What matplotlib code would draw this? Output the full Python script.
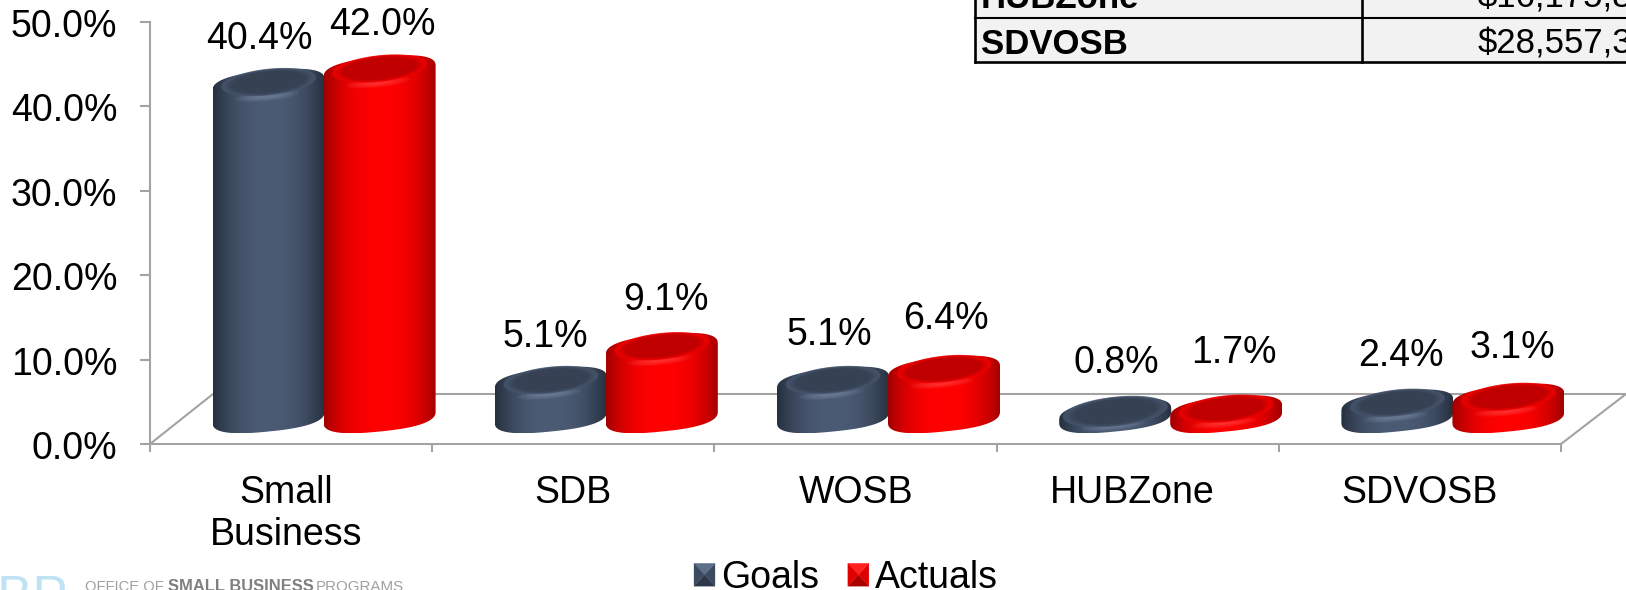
import numpy as np
import matplotlib
matplotlib.use("Agg")
import matplotlib.pyplot as plt
from matplotlib.patches import Polygon, Rectangle, Patch
from matplotlib.legend_handler import HandlerBase
from matplotlib.transforms import Affine2D

categories = ["Small\nBusiness", "SDB", "WOSB", "HUBZone", "SDVOSB"]
goals = [40.4, 5.1, 5.1, 0.8, 2.4]
actuals = [42.0, 9.1, 6.4, 1.7, 3.1]
y_ticks = [0, 10, 20, 30, 40, 50]
table_rows = ["HUBZone", "SDVOSB"]
table_values = ["$16,175,8", "$28,557,3"]

W, H = 1626, 590
plt.rcParams["font.family"] = ["Liberation Sans", "DejaVu Sans"]
FS = 27.0
GREY = "#a3a3a3"

# plot box in pixels
X0, X1, Y0, Y1 = 150, 1626, 444, 22
CAT_W = 282.2
PX_Y = (Y0 - Y1) / 50

fig = plt.figure(figsize=(W / 100, H / 100), dpi=100)
ax = fig.add_axes([X0 / W, 1 - Y0 / H, (X1 - X0) / W, (Y0 - Y1) / H])
ax.set_xlim(0, (X1 - X0) / CAT_W)
ax.set_ylim(0, 50)
ax.patch.set_alpha(0)

for s in ["top", "right"]:
    ax.spines[s].set_visible(False)
for s in ["left", "bottom"]:
    ax.spines[s].set_color(GREY)
    ax.spines[s].set_linewidth(1.5)
ax.spines["bottom"].set_bounds(0, 5)

ax.set_yticks(y_ticks)
ax.set_yticklabels([f"{t:.1f}%" for t in y_ticks], fontsize=FS, va="center")
ax.tick_params(axis="y", length=7, width=1.5, color=GREY, pad=16.5)
for lab in ax.get_yticklabels():
    lab.set_transform(lab.get_transform() + Affine2D().translate(0, -5))

ax.set_xticks(range(6))
ax.set_xticklabels([""] * 6)
ax.tick_params(axis="x", length=6, width=1.5, color=GREY)
ax.set_xticks(np.arange(len(categories)) + 0.5, minor=True)
ax.set_xticklabels(categories, minor=True, fontsize=FS, linespacing=1.22)
ax.tick_params(axis="x", which="minor", length=0, pad=22)
cat_nudge = [-5, 0, 1, -5, 0]
for lab, dx in zip(ax.get_xticklabels(minor=True), cat_nudge):
    lab.set_transform(lab.get_transform() + Affine2D().translate(dx, 0))

# floor of the 3d box
depth_x = 63 / CAT_W
depth_y = 50 / PX_Y
ax.plot([0, depth_x, (1626 - X0) / CAT_W], [0, depth_y, depth_y], color=GREY, lw=1.5, zorder=1, clip_on=False)
ax.plot([5, 5 + 65 / CAT_W], [0, depth_y], color=GREY, lw=1.5, zorder=1, clip_on=False)

A = 56  # half width px
B = 14.5
SHEAR = 0.10
BASE_PX = 417
TOP_PX = 426
P = 0.78  # squarer ellipse, gives the rounded bevel corners


def ring(xc, yc, a, b, t, p=P):
    # tilted ellipse, pixel sizes turned into data units
    c, s = np.cos(t), np.sin(t)
    px = a * np.sign(c) * np.abs(c) ** p
    py = b * np.sign(s) * np.abs(s) ** p + SHEAR * px
    return xc + px / CAT_W, yc + py / PX_Y


def mix(c0, c1, m):
    c0 = np.array(matplotlib.colors.to_rgb(c0))
    c1 = np.array(matplotlib.colors.to_rgb(c1))
    return c0 * (1 - m) + c1 * m


def gradient(patch, edge, mid, z):
    u = np.linspace(-1, 1, 200)
    m = (1 - np.clip(np.abs(u) ** 2.4, 0, 1))[:, None]
    img = mix(edge, mid, m)[None, :, :]
    xy = patch.get_xy()
    im = ax.imshow(img, extent=[xy[:, 0].min(), xy[:, 0].max(), xy[:, 1].min(), xy[:, 1].max()],
                   aspect="auto", zorder=z, interpolation="bilinear")
    ax.add_patch(patch)
    im.set_clip_path(patch)


def cylinder(xc, value, edge, mid, lit, top, z):
    y_base = (Y0 - BASE_PX) / PX_Y
    y_top = max((Y0 - TOP_PX) / PX_Y + value, y_base + 0.3)
    tt = np.linspace(0, 2 * np.pi, 120)
    low = np.linspace(np.pi, 2 * np.pi, 60)
    up = np.linspace(0, np.pi, 60)
    bx, by = ring(xc, y_base, A, B, low)
    tx, ty = ring(xc, y_top, A, B, up)
    side = Polygon(np.column_stack([np.r_[bx, tx], np.r_[by, ty]]), closed=True,
                   facecolor="none", edgecolor="none", zorder=z)
    gradient(side, edge, mid, z)
    # soft highlight on the bevel
    for k in range(6):
        f = 1 - k / 6
        hx, hy = ring(xc - 2 / CAT_W, y_top - 11 / PX_Y, 6 + 26 * f, 1 + 4 * f, tt, 1)
        ax.fill(hx, hy, color=lit, alpha=0.13, lw=0, zorder=z + 0.1)
    # flat dark top with a blurred rim
    inset = 0.9 if value > 1 else 1.0
    for k in range(7):
        f = k / 6
        ix, iy = ring(xc, y_top + 3 / PX_Y, A * (0.94 - 0.2 * f) * inset, B * (1.02 - 0.2 * f) * inset, tt, 1)
        col = mix(mid, top, 0.25 + 0.75 * f)
        ax.fill(ix, iy, color=col, lw=0, zorder=z + 0.2 + k * 0.01, alpha=0.8 if k < 6 else 1)


GOAL_COL = ("#252f3d", "#4b5b74", "#7f90a8", "#364254")
RED_COL = ("#a00000", "#ff0000", "#ff5050", "#c00000")
SHIFT = 33 / CAT_W
GAP = 55.5 / CAT_W

# label offsets in px, goal and actual
goal_dx = [-9, -5, -4, 1, 4]
goal_gap = [46, 46, 48, 56, 50]
act_dx = [3, 4, 2, 8, 4]
act_gap = [47, 49, 53, 59, 52]

for i in range(len(categories)):
    xc = i + 0.5 + SHIFT
    cylinder(xc - GAP, goals[i], *GOAL_COL, 3 + i)
    cylinder(xc + GAP, actuals[i], *RED_COL, 3.5 + i)
    ax.text(xc - GAP + goal_dx[i] / CAT_W, (Y0 - TOP_PX + goal_gap[i]) / PX_Y + goals[i],
            f"{goals[i]:.1f}%", fontsize=FS, ha="center", va="center", zorder=10, clip_on=False)
    ax.text(xc + GAP + act_dx[i] / CAT_W, (Y0 - TOP_PX + act_gap[i]) / PX_Y + actuals[i],
            f"{actuals[i]:.1f}%", fontsize=FS, ha="center", va="center", zorder=10, clip_on=False)

ax.set_xlim(0, (X1 - X0) / CAT_W)
ax.set_ylim(0, 50)


class Pyramid(HandlerBase):
    # legend key: little square shaded like a bevel
    def __init__(self, shades):
        super().__init__()
        self.shades = shades

    def create_artists(self, legend, orig, xd, yd, w, h, fs, trans):
        x0, y0 = -xd, -yd
        cx, cy = x0 + w / 2, y0 + h / 2
        c = [(x0, y0), (x0 + w, y0), (x0 + w, y0 + h), (x0, y0 + h)]
        out = []
        for j, col in enumerate(self.shades):
            out.append(Polygon([c[j], c[(j + 1) % 4], (cx, cy)], closed=True, facecolor=col,
                               edgecolor=col, lw=0.2, transform=trans))
        return out


h_goal = Patch(color="#46566e", label="Goals")
h_act = Patch(color="#ff0000", label="Actuals")
fig.legend(handles=[h_goal, h_act], loc="center left", bbox_to_anchor=(694 / W, 1 - 578 / H),
           ncol=2, frameon=False, fontsize=FS, borderpad=0, borderaxespad=0,
           handlelength=0.56, handleheight=0.56, handletextpad=0.17, columnspacing=0.76,
           handler_map={h_goal: Pyramid(["#2c3748", "#3b4a60", "#5d6e88", "#3b4a60"]),
                        h_act: Pyramid(["#a80000", "#e00000", "#ff2020", "#e00000"])})

# table cut off by the top right corner
fig.add_artist(Rectangle((975 / W, 1 - 62 / H), (W - 975) / W, 62 / H, facecolor="#f2f2f2",
                         edgecolor="none", transform=fig.transFigure))
for xs, ys in [([975, 975], [0, 62]), ([1362, 1362], [0, 62]),
               ([975, W], [17.5, 17.5]), ([975, W], [61.5, 61.5])]:
    fig.add_artist(plt.Line2D([x / W for x in xs], [1 - y / H for y in ys], color="black",
                              lw=1.5 if ys[0] == 17.5 else 1.9, transform=fig.transFigure))
for name, val, base in zip(table_rows, table_values, [8, 54]):
    fig.text(981 / W, 1 - base / H, name, fontsize=25, fontweight="bold", va="baseline")
    fig.text(1478 / W, 1 - base / H, val, fontsize=25, va="baseline")

# logo strip, only its upper part is in the frame
fig.text(68 / W, 1 - 613 / H, "SBP", fontsize=38, color="#bfe2f5", ha="right", va="baseline")
fig.text(85 / W, 1 - 591 / H, "OFFICE OF", fontsize=10.6, color="#a0a0a0", va="baseline")
fig.text(168 / W, 1 - 591 / H, "SMALL BUSINESS", fontsize=11.9, color="#808080",
         fontweight="bold", va="baseline")
fig.text(316 / W, 1 - 591 / H, "PROGRAMS", fontsize=10.9, color="#a0a0a0", va="baseline")

fig.savefig("out.png", dpi=100)
